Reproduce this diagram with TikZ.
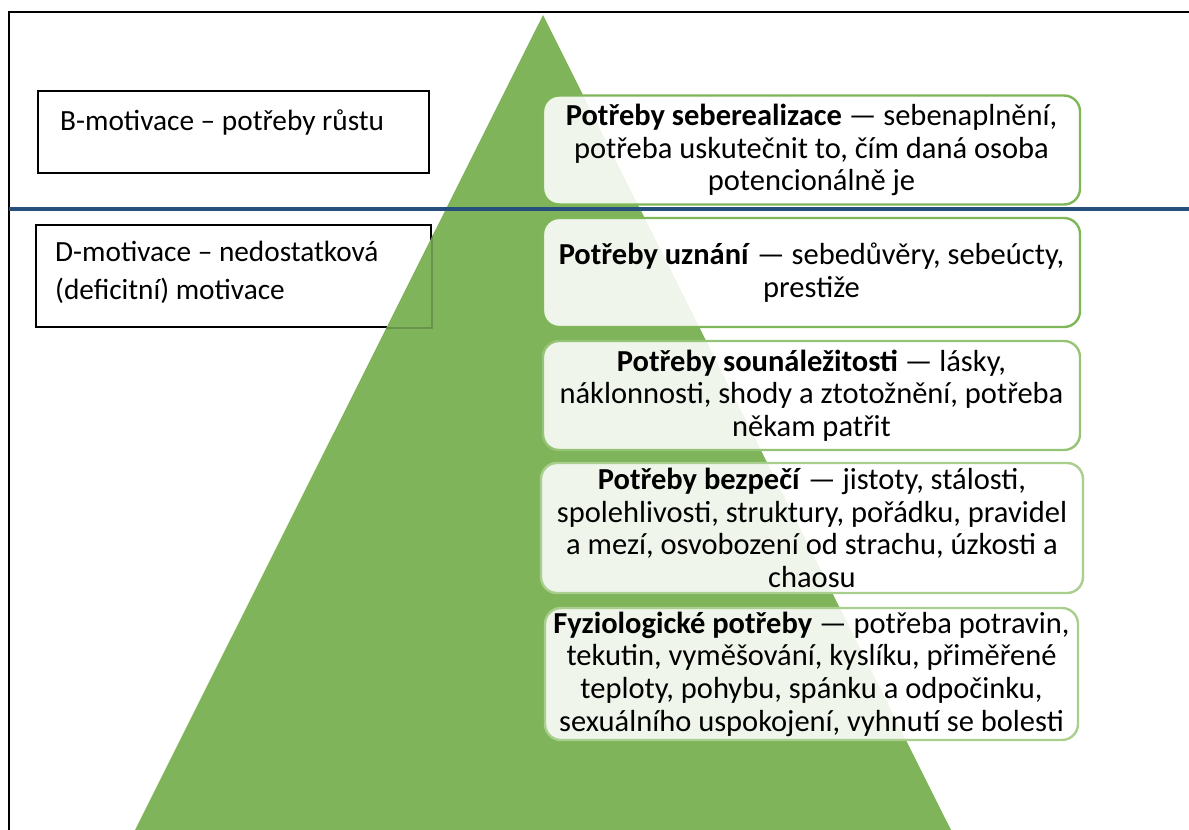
\documentclass[tikz,border=0pt]{standalone}
\usepackage{fontspec}
\setmainfont{Carlito}
\definecolor{pyr}{RGB}{127,180,90}
\definecolor{lineblue}{RGB}{37,80,126}
\definecolor{edgeA}{RGB}{127,182,88}
\definecolor{edgeB}{RGB}{150,196,118}
\definecolor{edgeC}{RGB}{168,207,141}
\tikzset{
  sidebox/.style={draw=black, line width=1.8pt, anchor=north west, inner sep=0pt},
  sidetext/.style={anchor=west, align=left, inner sep=0pt, font=\fontsize{29.3}{38}\selectfont},
  levelbox/.style={draw=#1, line width=2.4pt, rounded corners=16pt, fill=white, fill opacity=0.88, text opacity=1, align=center, inner sep=0pt, font=\fontsize{30.5}{32.7}\selectfont},
}
\begin{document}
\begin{tikzpicture}[x=1pt,y=-1pt]
\useasboundingbox (0,0) rectangle (1189,830);
\clip (0,0) rectangle (1189,830);
% frame
\coordinate (fbl) at (9,845);
\coordinate (ftl) at (9,12);
\coordinate (ftr) at (1200,12);
\draw[line width=2pt] (fbl) -- (ftl) -- (ftr);
% side boxes
\node[sidebox, minimum width=391pt, minimum height=82pt] (bbox) at (37,90) {};
\node[sidetext] (btext) at (60,122) {B-motivace – potřeby růstu};
\node[sidebox, minimum width=395pt, minimum height=102pt] (dbox) at (35,224) {};
\node[sidetext] (dtext) at (55,272) {D-motivace – nedostatková\\(deficitní) motivace};
% pyramid
\coordinate (apex) at (543,15);
\coordinate (bl) at (135,830);
\coordinate (br) at (951,830);
\fill[pyr] (apex) -- (br) -- (bl) -- cycle;
\begin{scope}
\clip (apex) -- (br) -- (bl) -- cycle;
\draw[draw=pyr!70!black, line width=1.8pt, opacity=0.6] (dbox.north west) rectangle (dbox.south east);
\end{scope}
% blue divider
\coordinate (dl) at (9,209);
\coordinate (dr) at (1195,209);
\draw[lineblue, line width=3.5pt] (dl) -- (dr);
% levels
\node[levelbox=edgeA, minimum width=537pt, minimum height=109pt] (l5) at (811.5,150)
 {\textbf{Potřeby seberealizace} — sebenaplnění,\\potřeba uskutečnit to, čím daná osoba\\potencionálně je};
\node[levelbox=edgeA, minimum width=537pt, minimum height=109pt] (l4) at (811.5,272.5)
 {\textbf{Potřeby uznání} — sebedůvěry, sebeúcty,\\prestiže};
\node[levelbox=edgeB, minimum width=537pt, minimum height=109pt] (l3) at (811.5,395.5)
 {\textbf{Potřeby sounáležitosti} — lásky,\\náklonnosti, shody a ztotožnění, potřeba\\někam patřit};
\node[levelbox=edgeC, minimum width=542pt, minimum height=130pt] (l2) at (812,528)
 {\textbf{Potřeby bezpečí} — jistoty, stálosti,\\spolehlivosti, struktury, pořádku, pravidel\\a mezí, osvobození od strachu, úzkosti a\\chaosu};
\node[levelbox=edgeC, minimum width=533pt, minimum height=132pt] (l1) at (811.5,674)
 {\textbf{Fyziologické potřeby} — potřeba potravin,\\tekutin, vyměšování, kyslíku, přiměřené\\teploty, pohybu, spánku a odpočinku,\\sexuálního uspokojení, vyhnutí se bolesti};
\end{tikzpicture}
\end{document}
